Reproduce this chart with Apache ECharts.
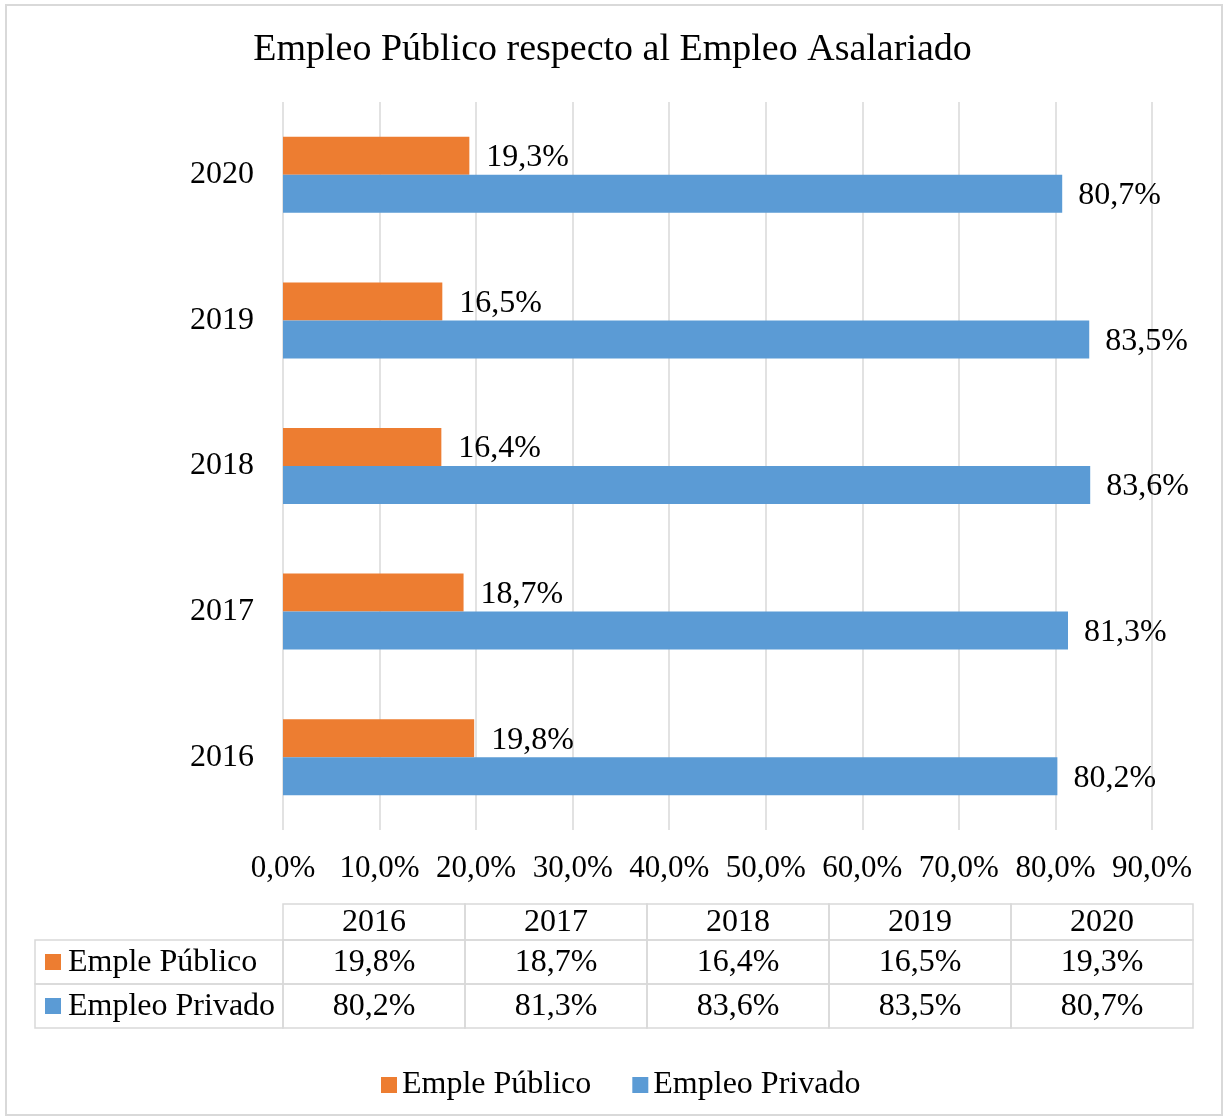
<!DOCTYPE html>
<html>
<head>
<meta charset="utf-8">
<script src="https://cdn.jsdelivr.net/npm/echarts@6/dist/echarts.min.js"></script>
<style>
html,body{margin:0;padding:0;background:#fff;}
#chart{width:1225px;height:1119px;}
</style>
</head>
<body>
<div id="chart"></div>
<script>
// ---- data ----
const years = ['2016', '2017', '2018', '2019', '2020'];
const seriesNames = ['Emple Público', 'Empleo Privado'];
const publico = [19.8, 18.7, 16.4, 16.5, 19.3];
const privado = [80.2, 81.3, 83.6, 83.5, 80.7];
const xMin = 0, xMax = 90, xStep = 10;
const title = 'Empleo Público respecto al Empleo Asalariado';

// ---- style ----
const FONT = '"Liberation Serif", "Times New Roman", serif';
const ORANGE = '#ED7D31';
const BLUE = '#5B9BD5';
const GRID = '#d9d9d9';
const fmt = v => Number(v).toFixed(1).replace('.', ',') + '%';

const chart = echarts.init(document.getElementById('chart'), null, {renderer: 'canvas'});

// ---- data table built from arrays ----
const tblLeft = 35, tblColX = 283, colW = 182;
const rowTops = [904, 940, 984, 1028];
const graphics = [];
// outer chart border
graphics.push({type: 'rect', shape: {x: 6, y: 5, width: 1216, height: 1110},
  style: {fill: null, stroke: GRID, lineWidth: 2}, silent: true});
const cellStyle = {fill: null, stroke: GRID, lineWidth: 1.5};
const txt = (x, y, s, align) => ({type: 'text', x: x, y: y, silent: true,
  style: {text: s, font: '32px ' + FONT, fill: '#000', textAlign: align || 'center', textVerticalAlign: 'middle'}});
years.forEach((yr, i) => {
  const x = tblColX + i * colW;
  graphics.push({type: 'rect', shape: {x: x, y: rowTops[0], width: colW, height: rowTops[1] - rowTops[0]}, style: cellStyle, silent: true});
  graphics.push(txt(x + colW / 2, (rowTops[0] + rowTops[1]) / 2 + 1, yr));
});
const rowsData = [publico, privado];
const rowColors = [ORANGE, BLUE];
rowsData.forEach((arr, r) => {
  const top = rowTops[r + 1], h = rowTops[r + 2] - rowTops[r + 1];
  const cy = top + h / 2;
  graphics.push({type: 'rect', shape: {x: tblLeft, y: top, width: tblColX - tblLeft, height: h}, style: cellStyle, silent: true});
  graphics.push({type: 'rect', shape: {x: 45, y: cy - 8, width: 16, height: 16}, style: {fill: rowColors[r]}, silent: true});
  graphics.push(txt(68, cy + 1, seriesNames[r], 'left'));
  arr.forEach((v, i) => {
    const x = tblColX + i * colW;
    graphics.push({type: 'rect', shape: {x: x, y: top, width: colW, height: h}, style: cellStyle, silent: true});
    graphics.push(txt(x + colW / 2, cy + 1, fmt(v)));
  });
});

const labelPub = {show: true, position: 'right', distance: 17, color: '#000', offset: [0, 2],
  fontFamily: FONT, fontSize: 32, formatter: p => fmt(p.value)};
const labelPriv = Object.assign({}, labelPub, {distance: 16});

chart.setOption({
  backgroundColor: '#fff',
  animation: false,
  title: {text: title, left: 'center', top: 26,
    textStyle: {fontFamily: FONT, fontSize: 38, fontWeight: 'normal', color: '#000'}},
  legend: {data: seriesNames, top: 1064, left: 376, icon: 'rect', itemWidth: 16, itemHeight: 16,
    itemGap: 41, textStyle: {fontFamily: FONT, fontSize: 32, color: '#000'}},
  grid: {left: 283, right: 73, top: 102, bottom: 289, containLabel: false},
  xAxis: {type: 'value', min: xMin, max: xMax, interval: xStep,
    axisLine: {show: false}, axisTick: {show: false},
    splitLine: {show: true, lineStyle: {color: GRID, width: 1.5}},
    axisLabel: {formatter: fmt, margin: 23, color: '#000', fontFamily: FONT, fontSize: 31}},
  yAxis: {type: 'category', data: years,
    axisLine: {show: false}, axisTick: {show: false},
    axisLabel: {margin: 29, color: '#000', fontFamily: FONT, fontSize: 32, padding: [5, 0, 0, 0]}},
  series: [
    {name: seriesNames[0], type: 'bar', data: publico, barWidth: 38, barGap: '0%',
      itemStyle: {color: ORANGE}, label: labelPub},
    {name: seriesNames[1], type: 'bar', data: privado, barWidth: 38, barGap: '0%',
      itemStyle: {color: BLUE}, label: labelPriv}
  ],
  graphic: graphics
});
</script>
</body>
</html>
